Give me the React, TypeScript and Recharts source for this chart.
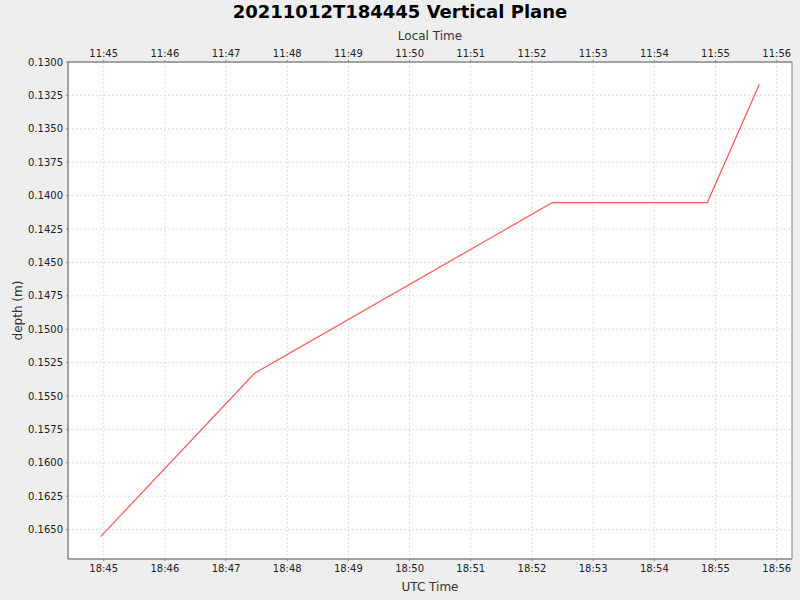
import React from "react";
import {
  LineChart,
  Line,
  XAxis,
  YAxis,
  CartesianGrid,
  ReferenceArea,
} from "recharts";

// tick labels for the two time axes (local is UTC-7)
const utcTickLabels = [
  "18:45", "18:46", "18:47", "18:48", "18:49", "18:50",
  "18:51", "18:52", "18:53", "18:54", "18:55", "18:56",
];
const localTickLabels = [
  "11:45", "11:46", "11:47", "11:48", "11:49", "11:50",
  "11:51", "11:52", "11:53", "11:54", "11:55", "11:56",
];
const depthTicks = [
  0.13, 0.1325, 0.135, 0.1375, 0.14, 0.1425, 0.145, 0.1475,
  0.15, 0.1525, 0.155, 0.1575, 0.16, 0.1625, 0.165,
];

// samples
const sampleTimes = ["18:44:57", "18:47:28", "18:52:20", "18:54:52", "18:55:43"];
const depths = [0.16552, 0.1533, 0.14052, 0.14052, 0.13167];

// minutes since midnight
function toMinutes(t: string): number {
  const [h, m, s] = t.split(":").map(Number);
  return h * 60 + m + (s || 0) / 60;
}

const xMin = toMinutes("18:44:25");
const xMax = toMinutes("18:56:15");
const yMin = 0.13;
const yMax = 0.1672;

const timeTicks = utcTickLabels.map(toMinutes);
const data = sampleTimes.map((t, i) => ({ time: toMinutes(t), depth: depths[i] }));

const font = "'DejaVu Sans', sans-serif";
const tickStyle = { fill: "#222", fontSize: 10, fontFamily: font };
const axisColor = "#888";

export default function App() {
  return (
    <div
      style={{
        position: "absolute",
        left: 0,
        top: 0,
        width: 800,
        height: 600,
        background: "#eeeeee",
        fontFamily: font,
      }}
    >
      <div
        style={{
          position: "absolute",
          top: 1,
          width: 800,
          textAlign: "center",
          fontSize: 18,
          fontWeight: "bold",
          lineHeight: "22px",
          color: "#000",
        }}
      >
        20211012T184445 Vertical Plane
      </div>
      <LineChart
        width={800}
        height={600}
        data={data}
        margin={{ top: 20, right: 8, bottom: 0, left: 0 }}
      >
        <CartesianGrid
          xAxisId="utc"
          stroke="#dddddd"
          strokeDasharray="2 2"
          fill="#ffffff"
          fillOpacity={1}
        />
        <ReferenceArea
          xAxisId="utc"
          x1={xMin}
          x2={xMax}
          y1={yMin}
          y2={yMax}
          fill="none"
          fillOpacity={0}
          stroke={axisColor}
          ifOverflow="visible"
        />
        <XAxis
          xAxisId="local"
          orientation="top"
          type="number"
          dataKey="time"
          domain={[xMin, xMax]}
          allowDataOverflow
          ticks={timeTicks}
          tickFormatter={(v: number) => localTickLabels[timeTicks.indexOf(v)] ?? ""}
          height={42}
          stroke={axisColor}
          tickSize={2}
          tickMargin={3}
          tick={tickStyle}
          interval={0}
          label={{
            value: "Local Time",
            position: "insideTop",
            offset: 11,
            fill: "#333",
            fontSize: 12,
            fontFamily: font,
          }}
        />
        <XAxis
          xAxisId="utc"
          type="number"
          dataKey="time"
          domain={[xMin, xMax]}
          allowDataOverflow
          ticks={timeTicks}
          tickFormatter={(v: number) => utcTickLabels[timeTicks.indexOf(v)] ?? ""}
          height={41}
          stroke={axisColor}
          tickSize={2}
          tickMargin={4}
          tick={tickStyle}
          interval={0}
          label={{
            value: "UTC Time",
            position: "insideBottom",
            offset: 9,
            fill: "#333",
            fontSize: 12,
            fontFamily: font,
          }}
        />
        <YAxis
          type="number"
          reversed
          domain={[yMin, yMax]}
          allowDataOverflow
          ticks={depthTicks}
          tickFormatter={(v: number) => v.toFixed(4)}
          width={68}
          stroke={axisColor}
          tickSize={2}
          tickMargin={3}
          tick={tickStyle}
          interval={0}
          label={{
            value: "depth (m)",
            angle: -90,
            position: "insideLeft",
            offset: 18,
            fill: "#333",
            fontSize: 12,
            fontFamily: font,
            style: { textAnchor: "middle" },
          }}
        />
        <Line
          xAxisId="utc"
          type="linear"
          dataKey="depth"
          stroke="#ff5555"
          strokeWidth={1.2}
          dot={false}
          activeDot={false}
          isAnimationActive={false}
        />
      </LineChart>
    </div>
  );
}
